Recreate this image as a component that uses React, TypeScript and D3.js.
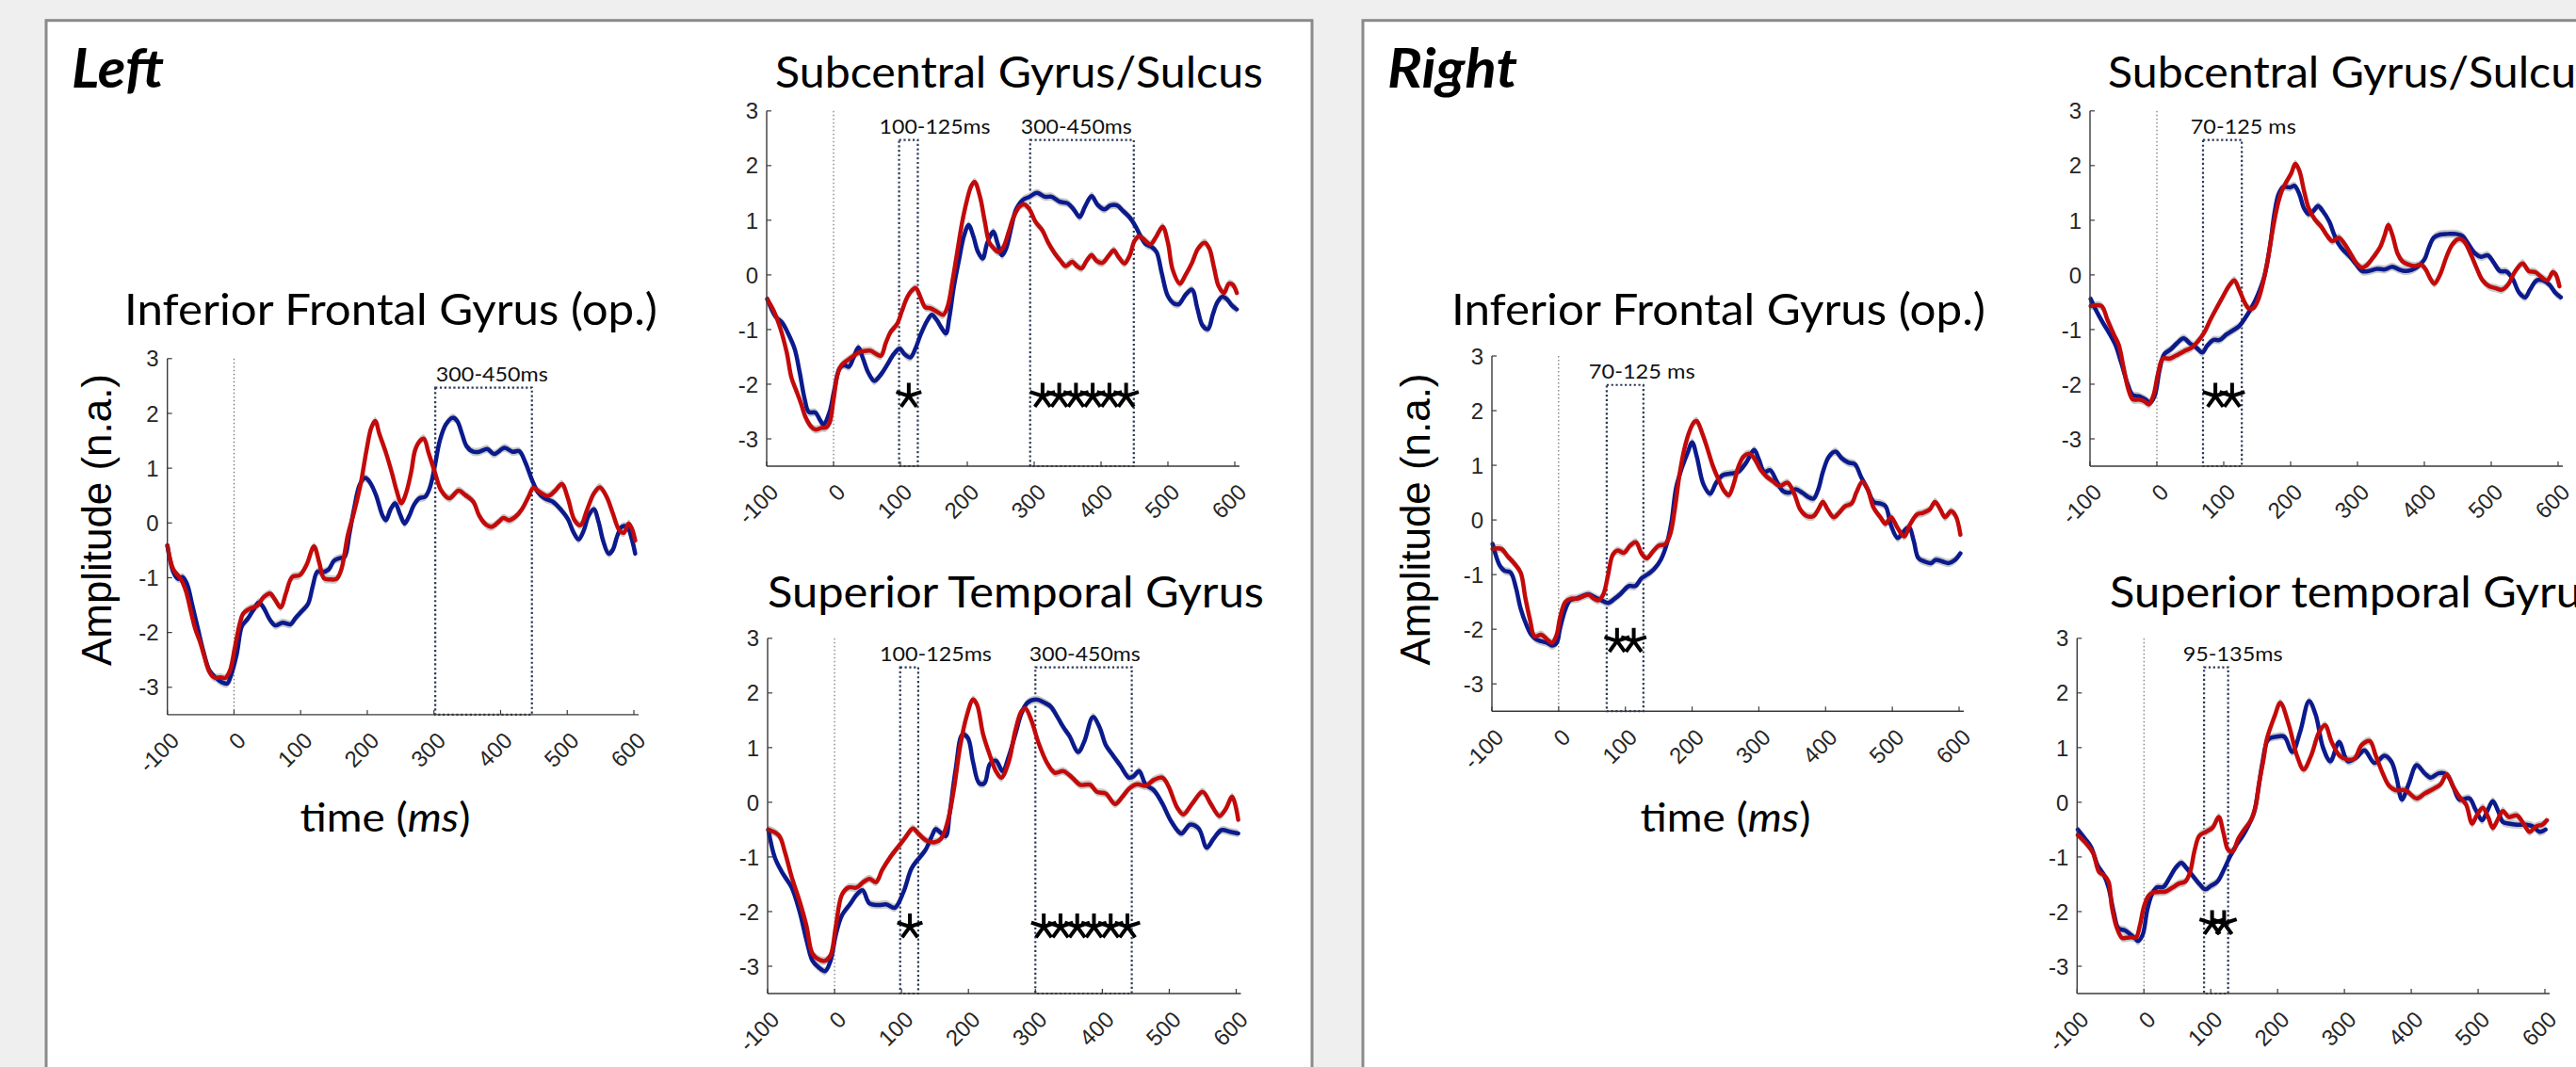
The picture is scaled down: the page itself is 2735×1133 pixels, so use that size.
import React, { useEffect } from 'react';
import * as d3 from 'd3';

type Pt = [number, number];

// ---------- axis ticks ----------
const timeTicks = [-100, 0, 100, 200, 300, 400, 500, 600];
const ampTicks = [-3, -2, -1, 0, 1, 2, 3];

// ---------- LEFT hemisphere ----------
const ifgLeftBlue: Pt[] = [[-100,-0.41],[-91,-0.9],[-84,-1.02],[-77,-0.99],[-70,-1.13],[-63,-1.48],[-54,-1.94],[-46,-2.34],[-37,-2.69],[-27,-2.83],[-18,-2.91],[-10,-2.93],[-5,-2.8],[4,-2.4],[12,-1.88],[20,-1.76],[30,-1.57],[37,-1.45],[44,-1.54],[54,-1.77],[62,-1.87],[73,-1.82],[85,-1.85],[92,-1.74],[101,-1.62],[111,-1.48],[118,-1.16],[125,-0.89],[132,-0.9],[142,-0.85],[150,-0.69],[159,-0.64],[166,-0.62],[173,-0.21],[180,0.25],[189,0.71],[197,0.82],[204,0.74],[213,0.51],[223,0.13],[228,0.05],[235,0.25],[242,0.36],[249,0.16],[256,-0.01],[263,0.13],[270,0.33],[278,0.45],[287,0.48],[294,0.65],[301,1.02],[309,1.51],[318,1.8],[328,1.92],[335,1.86],[342,1.63],[349,1.4],[359,1.3],[368,1.3],[380,1.35],[390,1.26],[406,1.37],[418,1.3],[428,1.31],[437,1.11],[447,0.79],[456,0.56],[466,0.45],[478,0.39],[490,0.25],[501,0.07],[509,-0.16],[517,-0.3],[525,-0.13],[532,0.13],[540,0.25],[547,0.02],[554,-0.33],[562,-0.56],[568,-0.5],[575,-0.24],[582,-0.07],[590,-0.07],[597,-0.3],[602,-0.56]];
const ifgLeftRed: Pt[] = [[-100,-0.41],[-91,-0.85],[-80,-1.02],[-72,-1.25],[-65,-1.6],[-58,-1.94],[-51,-2.17],[-44,-2.46],[-37,-2.72],[-30,-2.82],[-20,-2.82],[-13,-2.83],[-6,-2.69],[1,-2.29],[9,-1.82],[14,-1.65],[23,-1.57],[35,-1.51],[44,-1.36],[54,-1.29],[61,-1.39],[70,-1.54],[78,-1.28],[87,-0.99],[99,-0.95],[109,-0.76],[120,-0.43],[128,-0.73],[135,-1.01],[144,-1.03],[154,-1.02],[161,-0.85],[171,-0.21],[180,0.19],[190,0.71],[199,1.34],[206,1.74],[212,1.86],[218,1.63],[228,1.28],[237,0.91],[244,0.59],[251,0.36],[258,0.54],[266,0.94],[272,1.34],[280,1.51],[285,1.54],[292,1.28],[301,0.94],[311,0.59],[323,0.45],[337,0.59],[347,0.51],[359,0.39],[368,0.13],[378,-0.03],[387,-0.07],[397,0.02],[404,0.09],[413,0.05],[423,0.12],[432,0.25],[442,0.48],[449,0.64],[459,0.56],[471,0.49],[482,0.59],[492,0.71],[501,0.45],[511,0.05],[520,-0.04],[530,0.25],[540,0.54],[549,0.65],[559,0.48],[568,0.19],[578,-0.13],[585,-0.18],[592,-0.01],[597,-0.1],[602,-0.32]];

const scgLeftBlue: Pt[] = [[-99,-0.44],[-87,-0.76],[-77,-0.87],[-68,-1.07],[-58,-1.36],[-51,-1.76],[-43,-2.28],[-37,-2.51],[-27,-2.52],[-20,-2.66],[-15,-2.74],[-6,-2.51],[1,-2.11],[9,-1.71],[16,-1.65],[23,-1.68],[30,-1.51],[37,-1.33],[44,-1.53],[52,-1.79],[61,-1.94],[71,-1.82],[80,-1.65],[90,-1.45],[99,-1.35],[106,-1.45],[115,-1.51],[123,-1.33],[130,-1.1],[140,-0.84],[147,-0.73],[154,-0.82],[161,-0.96],[168,-1.07],[173,-0.79],[180,-0.21],[188,0.3],[195,0.71],[202,0.91],[209,0.71],[216,0.42],[223,0.3],[230,0.59],[239,0.79],[245,0.59],[252,0.36],[258,0.48],[266,0.88],[273,1.2],[283,1.37],[293,1.43],[304,1.5],[316,1.43],[326,1.43],[338,1.34],[350,1.31],[359,1.2],[368,1.06],[376,1.25],[386,1.44],[395,1.28],[405,1.2],[414,1.27],[424,1.27],[433,1.17],[443,1.05],[452,0.88],[459,0.71],[467,0.56],[476,0.51],[483,0.42],[491,0.02],[500,-0.39],[510,-0.53],[517,-0.53],[526,-0.37],[536,-0.27],[544,-0.61],[552,-0.93],[560,-0.99],[567,-0.73],[574,-0.5],[581,-0.4],[588,-0.44],[595,-0.55],[603,-0.63]];
const scgLeftRed: Pt[] = [[-99,-0.45],[-89,-0.67],[-80,-0.96],[-70,-1.42],[-63,-1.88],[-56,-2.11],[-49,-2.34],[-42,-2.6],[-34,-2.77],[-27,-2.83],[-18,-2.8],[-11,-2.79],[-6,-2.71],[0,-2.28],[6,-1.82],[12,-1.65],[21,-1.56],[30,-1.48],[40,-1.41],[49,-1.39],[56,-1.39],[64,-1.45],[71,-1.48],[78,-1.25],[85,-1.05],[95,-0.9],[102,-0.67],[109,-0.44],[116,-0.3],[123,-0.24],[130,-0.41],[137,-0.59],[145,-0.61],[154,-0.67],[164,-0.73],[171,-0.56],[178,-0.1],[185,0.42],[192,0.94],[199,1.34],[206,1.63],[211,1.7],[219,1.43],[226,0.99],[233,0.59],[240,0.48],[247,0.42],[254,0.51],[262,0.79],[269,1.05],[278,1.25],[285,1.29],[293,1.2],[302,0.97],[312,0.82],[321,0.59],[331,0.39],[340,0.25],[347,0.16],[357,0.24],[364,0.16],[371,0.12],[378,0.25],[386,0.36],[393,0.26],[402,0.22],[412,0.36],[419,0.45],[426,0.33],[435,0.21],[443,0.36],[450,0.62],[457,0.71],[464,0.65],[474,0.56],[483,0.71],[492,0.88],[500,0.59],[507,0.1],[518,-0.16],[526,-0.01],[536,0.22],[545,0.48],[555,0.59],[562,0.48],[569,0.13],[576,-0.21],[584,-0.33],[591,-0.16],[597,-0.18],[603,-0.33]];

const stgLeftBlue: Pt[] = [[-99,-0.5],[-89,-1.02],[-77,-1.31],[-64,-1.56],[-52,-2.01],[-42,-2.52],[-33,-2.9],[-23,-3.03],[-14,-3.09],[-6,-2.9],[2,-2.42],[11,-2.07],[24,-1.85],[33,-1.69],[42,-1.61],[52,-1.85],[65,-1.88],[78,-1.87],[90,-1.93],[103,-1.64],[115,-1.21],[127,-1.01],[136,-0.87],[146,-0.6],[151,-0.49],[158,-0.55],[166,-0.62],[172,-0.2],[181,0.61],[191,1.24],[199,1.18],[207,0.73],[216,0.35],[224,0.35],[232,0.7],[241,0.76],[251,0.57],[260,0.83],[270,1.24],[279,1.62],[288,1.82],[301,1.88],[314,1.82],[323,1.75],[333,1.56],[342,1.37],[351,1.21],[364,0.92],[373,1.11],[386,1.56],[396,1.37],[405,1.05],[414,0.89],[427,0.67],[440,0.45],[447,0.48],[455,0.57],[465,0.32],[477,0.22],[490,-0.03],[503,-0.35],[518,-0.57],[531,-0.41],[544,-0.48],[556,-0.83],[566,-0.67],[578,-0.51],[591,-0.54],[603,-0.57]];
const stgLeftRed: Pt[] = [[-99,-0.5],[-83,-0.61],[-74,-0.92],[-64,-1.37],[-52,-1.82],[-42,-2.26],[-33,-2.77],[-23,-2.88],[-14,-2.9],[-6,-2.8],[2,-2.26],[11,-1.69],[21,-1.56],[33,-1.56],[43,-1.46],[52,-1.4],[62,-1.46],[71,-1.24],[84,-0.99],[96,-0.8],[106,-0.64],[117,-0.48],[125,-0.57],[137,-0.7],[150,-0.73],[159,-0.67],[169,-0.35],[178,0.22],[188,1.05],[197,1.56],[207,1.88],[213,1.78],[222,1.24],[232,0.86],[241,0.57],[249,0.45],[260,0.73],[270,1.31],[279,1.66],[285,1.72],[294,1.5],[304,1.11],[317,0.73],[329,0.54],[342,0.57],[355,0.45],[367,0.32],[382,0.32],[392,0.19],[405,0.16],[419,-0.03],[430,0.1],[440,0.25],[452,0.33],[465,0.3],[477,0.41],[490,0.45],[499,0.29],[512,-0.1],[521,-0.22],[534,-0.03],[550,0.19],[562,-0.03],[575,-0.25],[584,-0.13],[594,0.1],[603,-0.32]];

// ---------- RIGHT hemisphere ----------
const ifgRightBlue: Pt[] = [[-99,-0.44],[-88,-0.84],[-81,-0.93],[-72,-0.96],[-64,-1.24],[-57,-1.62],[-48,-1.93],[-41,-2.1],[-33,-2.19],[-26,-2.22],[-17,-2.25],[-10,-2.3],[-3,-2.25],[2,-1.99],[10,-1.64],[17,-1.47],[26,-1.44],[36,-1.39],[45,-1.36],[55,-1.42],[64,-1.47],[74,-1.52],[84,-1.44],[93,-1.35],[105,-1.21],[115,-1.21],[124,-1.07],[134,-0.99],[143,-0.9],[153,-0.73],[162,-0.44],[169,-0.04],[176,0.59],[184,0.93],[193,1.22],[200,1.42],[207,1.16],[217,0.65],[227,0.48],[236,0.68],[246,0.82],[258,0.85],[269,0.88],[281,1.05],[293,1.28],[300,1.11],[308,0.88],[317,0.91],[327,0.7],[336,0.53],[346,0.5],[355,0.56],[365,0.5],[374,0.42],[382,0.39],[389,0.56],[396,0.88],[405,1.16],[415,1.25],[424,1.13],[434,1.05],[444,1.02],[453,0.79],[463,0.56],[472,0.33],[482,0.3],[490,0.25],[498,-0.1],[508,-0.33],[517,-0.21],[525,-0.13],[532,-0.38],[539,-0.7],[548,-0.76],[558,-0.79],[565,-0.73],[575,-0.76],[584,-0.79],[594,-0.73],[602,-0.61]];
const ifgRightRed: Pt[] = [[-99,-0.53],[-86,-0.53],[-76,-0.67],[-67,-0.79],[-57,-0.96],[-50,-1.42],[-43,-1.82],[-36,-2.13],[-26,-2.1],[-17,-2.19],[-10,-2.25],[-3,-2.1],[2,-1.79],[10,-1.5],[19,-1.44],[29,-1.44],[38,-1.39],[45,-1.37],[53,-1.44],[60,-1.47],[67,-1.36],[74,-1.01],[81,-0.64],[88,-0.56],[98,-0.6],[107,-0.47],[116,-0.41],[124,-0.61],[132,-0.7],[141,-0.58],[150,-0.47],[160,-0.44],[167,-0.27],[174,0.19],[181,0.82],[188,1.28],[196,1.62],[203,1.79],[207,1.81],[215,1.59],[222,1.34],[231,0.99],[241,0.7],[248,0.53],[255,0.45],[262,0.65],[269,0.96],[277,1.16],[286,1.21],[293,1.13],[303,0.91],[312,0.79],[322,0.7],[331,0.62],[343,0.68],[353,0.48],[362,0.19],[372,0.07],[382,0.07],[389,0.19],[396,0.33],[403,0.19],[412,0.05],[420,0.13],[429,0.25],[439,0.3],[446,0.5],[455,0.7],[463,0.56],[472,0.22],[482,0.05],[490,-0.07],[498,0.05],[508,-0.15],[518,-0.3],[527,-0.07],[537,0.1],[546,0.13],[556,0.19],[564,0.33],[572,0.19],[579,0.05],[588,0.16],[595,0.07],[602,-0.27]];

const scgRightBlue: Pt[] = [[-99,-0.44],[-90,-0.67],[-81,-0.87],[-72,-1.05],[-62,-1.28],[-53,-1.62],[-43,-2.02],[-36,-2.2],[-27,-2.22],[-17,-2.28],[-10,-2.34],[-3,-2.2],[4,-1.74],[11,-1.45],[21,-1.36],[30,-1.25],[40,-1.16],[49,-1.25],[59,-1.33],[68,-1.42],[75,-1.3],[85,-1.19],[94,-1.19],[104,-1.09],[113,-1.02],[123,-0.94],[132,-0.79],[142,-0.59],[151,-0.36],[161,-0.01],[169,0.51],[176,1.14],[182,1.48],[189,1.61],[199,1.6],[206,1.63],[213,1.48],[220,1.22],[227,1.11],[234,1.17],[241,1.26],[248,1.17],[258,0.97],[265,0.74],[272,0.56],[279,0.45],[289,0.33],[298,0.19],[307,0.07],[317,0.07],[329,0.11],[341,0.1],[352,0.15],[362,0.1],[371,0.07],[381,0.09],[390,0.15],[400,0.28],[407,0.51],[414,0.68],[424,0.74],[435,0.75],[447,0.75],[457,0.71],[466,0.56],[476,0.39],[485,0.33],[495,0.36],[504,0.22],[513,0.07],[523,0.06],[532,-0.07],[542,-0.33],[551,-0.41],[558,-0.27],[568,-0.1],[577,-0.1],[587,-0.18],[596,-0.33],[604,-0.41]];
const scgRightRed: Pt[] = [[-99,-0.57],[-83,-0.57],[-74,-0.82],[-64,-1.1],[-57,-1.28],[-50,-1.68],[-43,-2.08],[-36,-2.28],[-27,-2.28],[-19,-2.31],[-12,-2.37],[-5,-2.2],[2,-1.79],[9,-1.53],[19,-1.53],[28,-1.48],[40,-1.4],[52,-1.33],[61,-1.22],[71,-1.05],[80,-0.82],[90,-0.59],[99,-0.39],[109,-0.18],[116,-0.1],[123,-0.27],[130,-0.47],[137,-0.61],[144,-0.61],[151,-0.47],[158,-0.18],[165,0.22],[172,0.74],[180,1.25],[187,1.54],[194,1.71],[201,1.86],[207,2.03],[213,1.91],[220,1.54],[227,1.22],[236,1.02],[246,0.88],[255,0.71],[262,0.62],[272,0.68],[281,0.56],[291,0.36],[300,0.19],[307,0.13],[315,0.19],[324,0.33],[334,0.51],[341,0.74],[346,0.91],[352,0.74],[360,0.39],[367,0.25],[376,0.19],[386,0.16],[395,0.19],[402,0.1],[409,-0.07],[415,-0.16],[424,0.02],[433,0.33],[442,0.56],[452,0.66],[459,0.62],[469,0.39],[478,0.13],[487,-0.1],[497,-0.21],[506,-0.24],[516,-0.27],[525,-0.18],[535,0.05],[547,0.21],[556,0.07],[566,0.05],[575,-0.04],[584,-0.1],[592,0.05],[596,0.02],[602,-0.21]];

const stgRightBlue: Pt[] = [[-99,-0.5],[-88,-0.67],[-79,-0.82],[-69,-1.16],[-60,-1.33],[-53,-1.56],[-45,-2.02],[-38,-2.31],[-29,-2.34],[-22,-2.4],[-14,-2.48],[-9,-2.54],[-2,-2.43],[5,-1.97],[12,-1.68],[19,-1.56],[29,-1.55],[38,-1.39],[48,-1.19],[56,-1.11],[64,-1.21],[74,-1.36],[84,-1.51],[92,-1.59],[100,-1.53],[110,-1.45],[119,-1.25],[129,-0.99],[138,-0.79],[148,-0.61],[157,-0.41],[165,-0.18],[171,0.22],[177,0.7],[186,1.15],[198,1.2],[210,1.2],[222,0.92],[234,1.3],[247,1.85],[257,1.6],[268,1.0],[279,0.75],[292,1.1],[305,0.75],[318,0.82],[330,0.95],[345,0.72],[360,0.85],[370,0.75],[378,0.45],[386,0.05],[396,0.33],[408,0.68],[420,0.53],[429,0.45],[441,0.53],[453,0.51],[463,0.28],[472,0.05],[487,0.07],[496,-0.13],[506,-0.33],[513,-0.18],[522,0.02],[530,-0.16],[537,-0.36],[546,-0.39],[558,-0.41],[572,-0.41],[582,-0.44],[592,-0.54],[601,-0.5]];
const stgRightRed: Pt[] = [[-99,-0.6],[-86,-0.76],[-76,-0.93],[-67,-1.28],[-60,-1.33],[-53,-1.45],[-48,-1.91],[-41,-2.28],[-33,-2.48],[-26,-2.48],[-19,-2.47],[-12,-2.48],[-6,-2.25],[0,-1.91],[7,-1.71],[14,-1.65],[24,-1.64],[33,-1.63],[43,-1.56],[52,-1.49],[62,-1.45],[69,-1.28],[76,-0.87],[83,-0.61],[93,-0.54],[103,-0.46],[112,-0.27],[119,-0.56],[126,-0.87],[133,-0.9],[141,-0.67],[150,-0.5],[160,-0.33],[167,-0.07],[172,0.33],[179,0.79],[184,1.16],[196,1.59],[204,1.82],[217,1.41],[229,0.85],[239,0.6],[250,0.85],[262,1.28],[271,1.41],[281,1.1],[293,0.85],[305,0.78],[315,0.8],[326,1.05],[338,1.12],[347,0.85],[358,0.51],[367,0.3],[377,0.22],[391,0.22],[408,0.07],[420,0.16],[434,0.25],[444,0.33],[453,0.51],[463,0.28],[472,0.1],[482,-0.04],[491,-0.39],[498,-0.24],[507,-0.1],[515,-0.27],[522,-0.47],[530,-0.3],[537,-0.16],[546,-0.27],[558,-0.24],[568,-0.39],[577,-0.54],[587,-0.44],[596,-0.41],[603,-0.33]];

// ---------- analysis windows (ms), label start (ms) ----------
type Win = { x0: number; x1: number; label: string; labelAt: number; labelW: number };
const ifgLeftWindows: Win[] = [{ x0: 302, x1: 447, label: '300-450ms', labelAt: 303, labelW: 119 }];
const scgLeftWindows: Win[] = [
  { x0: 98, x1: 126, label: '100-125ms', labelAt: 68.5, labelW: 118 },
  { x0: 294, x1: 449, label: '300-450ms', labelAt: 280, labelW: 118 },
];
const stgLeftWindows: Win[] = [
  { x0: 98, x1: 125, label: '100-125ms', labelAt: 67.4, labelW: 119 },
  { x0: 300, x1: 444, label: '300-450ms', labelAt: 291, labelW: 118 },
];
const ifgRightWindows: Win[] = [{ x0: 72, x1: 127, label: '70-125 ms', labelAt: 45, labelW: 113 }];
const scgRightWindows: Win[] = [{ x0: 69, x1: 127, label: '70-125 ms', labelAt: 50.4, labelW: 112 }];
const stgRightWindows: Win[] = [{ x0: 90, x1: 126, label: '95-135ms', labelAt: 58.3, labelW: 106 }];

// ---------- significance markers (ms) ----------
const ifgLeftStars: number[] = [];
const scgLeftStars = [112.5, 312.5, 337.5, 362.5, 387.5, 412.5, 437.5];
const stgLeftStars = [112.5, 312.5, 337.5, 362.5, 387.5, 412.5, 437.5];
const ifgRightStars = [87.5, 112.5];
const scgRightStars = [87.5, 112.5];
const stgRightStars = [102, 120];

const semHalf = 0.075;

// ---------- layout (pixels) ----------
const geo = {
  ifgL: { xl: 177.7, xr: 673, y3: 380.8, ym3: 729.8 },
  scgL: { xl: 814, xr: 1311, y3: 117.8, ym3: 466 },
  stgL: { xl: 815, xr: 1312.5, y3: 677.8, ym3: 1026 },
  ifgR: { xl: 1584, xr: 2080, y3: 378, ym3: 726.2 },
  scgR: { xl: 2219, xr: 2716, y3: 117.8, ym3: 466 },
  stgR: { xl: 2205.3, xr: 2702, y3: 677.8, ym3: 1026 },
};

const BLUE = '#0b1a8c';
const RED = '#c30a0a';
const BAND = '#c9c9c9';
const WIN = '#2c3958';
const AX = '#3a3a3a';
const TXT = '#262626';
const TITLE_FONT = "Lato, 'Open Sans', sans-serif";
const TICK_FONT = "'Liberation Sans', Arial, sans-serif";

// five-armed asterisk marker path (like a text '*')
function asteriskPath(cx: number, cy: number, r: number): string {
  const angles = [-90, -18, -162, 54, 126];
  return angles
    .map(a => {
      const rad = (a * Math.PI) / 180;
      return `M${cx},${cy}L${cx + r * Math.cos(rad)},${cy + r * Math.sin(rad)}`;
    })
    .join('');
}

type ChartProps = {
  g: { xl: number; xr: number; y3: number; ym3: number };
  title: string; titleX: number; titleY: number; titleW: number;
  blue: Pt[]; red: Pt[]; windows: Win[]; stars: number[]; starLevel: number;
  yLabel?: { x: number; y: number }; xLabel?: { x: number; y: number };
};

function Chart(p: ChartProps) {
  const x = d3.scaleLinear().domain([-100, 600]).range([p.g.xl, p.g.xr]);
  const y = d3.scaleLinear().domain([-3, 3]).range([p.g.ym3, p.g.y3]);
  const axisY = y(-3.5);
  const xEnd = x(607);
  const curve = d3.curveCatmullRom.alpha(0.5);
  const line = d3.line<Pt>().x(d => x(d[0])).y(d => y(d[1])).curve(curve);
  const area = d3.area<Pt>().x(d => x(d[0])).y0(d => y(d[1] - semHalf)).y1(d => y(d[1] + semHalf)).curve(curve);
  const winTop = y(2.47);
  return (
    <g>
      <text x={p.titleX} y={p.titleY} fontFamily={TITLE_FONT} fontSize={47} fill="#000"
        textLength={p.titleW} lengthAdjust="spacingAndGlyphs">{p.title}</text>
      <line x1={x(0)} x2={x(0)} y1={y(3)} y2={axisY} stroke="#555" strokeWidth={1} strokeDasharray="1.5 2.5" />
      {p.windows.map((w, i) => (
        <g key={i}>
          <rect x={x(w.x0)} y={winTop} width={x(w.x1) - x(w.x0)} height={axisY - winTop}
            fill="none" stroke={WIN} strokeWidth={2.2} strokeDasharray="2.2 2.6" />
          <text x={x(w.labelAt)} y={winTop - 6.5} fontFamily={TITLE_FONT} fontSize={22} fill="#111"
            textLength={w.labelW} lengthAdjust="spacingAndGlyphs">{w.label}</text>
        </g>
      ))}
      <path d={area(p.blue) || ''} fill={BAND} />
      <path d={area(p.red) || ''} fill={BAND} />
      <path d={line(p.blue) || ''} fill="none" stroke={BLUE} strokeWidth={4.5} strokeLinejoin="round" strokeLinecap="round" />
      <path d={line(p.red) || ''} fill="none" stroke={RED} strokeWidth={4.5} strokeLinejoin="round" strokeLinecap="round" />
      <line x1={p.g.xl} x2={p.g.xl} y1={y(3)} y2={axisY} stroke={AX} strokeWidth={1.4} />
      <line x1={p.g.xl} x2={xEnd} y1={axisY} y2={axisY} stroke={AX} strokeWidth={1.4} />
      {ampTicks.map(t => (
        <g key={'y' + t}>
          <line x1={p.g.xl} x2={p.g.xl + 5} y1={y(t)} y2={y(t)} stroke={AX} strokeWidth={1.2} />
          <text x={p.g.xl - 9} y={y(t)} dy="0.36em" textAnchor="end" fontFamily={TICK_FONT} fontSize={24} fill={TXT}>{t}</text>
        </g>
      ))}
      {timeTicks.map(t => (
        <g key={'x' + t}>
          <line x1={x(t)} x2={x(t)} y1={axisY} y2={axisY - 5} stroke={AX} strokeWidth={1.2} />
          <text transform={`translate(${x(t) + 14},${axisY + 29}) rotate(-45)`} textAnchor="end"
            fontFamily={TICK_FONT} fontSize={24} fill={TXT}>{t}</text>
        </g>
      ))}
      {p.stars.map((s, i) => (
        <path key={'s' + i} d={asteriskPath(x(s), y(p.starLevel) + 1.5, 14)} stroke="#000" strokeWidth={4} fill="none" />
      ))}
      {p.yLabel && (
        <text transform={`translate(${p.yLabel.x},${p.yLabel.y}) rotate(-90)`} textAnchor="middle"
          fontFamily={TICK_FONT} fontSize={44} fill="#000" textLength={310} lengthAdjust="spacingAndGlyphs">Amplitude (n.a.)</text>
      )}
      {p.xLabel && (
        <text x={p.xLabel.x} y={p.xLabel.y} textAnchor="middle" fontFamily={TITLE_FONT} fontSize={43} fill="#000"
          textLength={181} lengthAdjust="spacingAndGlyphs">time (<tspan fontStyle="italic">ms</tspan>)</text>
      )}
    </g>
  );
}

export default function App() {
  useEffect(() => {
    document.body.style.margin = '0';
    document.body.style.overflow = 'hidden';
  }, []);
  return (
    <svg width={2735} height={1133} style={{ position: 'absolute', left: 0, top: 0, display: 'block' }}>
      <rect x={0} y={0} width={2735} height={1133} fill="#efefef" />
      <rect x={49} y={21.7} width={1344} height={1200} fill="#fff" stroke="#8a8a8a" strokeWidth={3} />
      <rect x={1447} y={21.7} width={1400} height={1200} fill="#fff" stroke="#8a8a8a" strokeWidth={3} />
      <text x={76} y={92.5} fontFamily={TITLE_FONT} fontWeight="bold" fontStyle="italic" fontSize={57}
        textLength={98} lengthAdjust="spacingAndGlyphs">Left</text>
      <text x={1473} y={92.5} fontFamily={TITLE_FONT} fontWeight="bold" fontStyle="italic" fontSize={57}
        textLength={138} lengthAdjust="spacingAndGlyphs">Right</text>

      <Chart g={geo.ifgL} title="Inferior Frontal Gyrus (op.)" titleX={132} titleY={345} titleW={566}
        blue={ifgLeftBlue} red={ifgLeftRed} windows={ifgLeftWindows} stars={ifgLeftStars} starLevel={-2.2}
        yLabel={{ x: 118, y: 552 }} xLabel={{ x: 409, y: 883 }} />
      <Chart g={geo.scgL} title="Subcentral Gyrus/Sulcus" titleX={823} titleY={92.5} titleW={518}
        blue={scgLeftBlue} red={scgLeftRed} windows={scgLeftWindows} stars={scgLeftStars} starLevel={-2.19} />
      <Chart g={geo.stgL} title="Superior Temporal Gyrus" titleX={815} titleY={645} titleW={527}
        blue={stgLeftBlue} red={stgLeftRed} windows={stgLeftWindows} stars={stgLeftStars} starLevel={-2.25} />

      <Chart g={geo.ifgR} title="Inferior Frontal Gyrus (op.)" titleX={1541} titleY={345} titleW={567}
        blue={ifgRightBlue} red={ifgRightRed} windows={ifgRightWindows} stars={ifgRightStars} starLevel={-2.19}
        yLabel={{ x: 1517.5, y: 551.5 }} xLabel={{ x: 1832, y: 883 }} />
      <Chart g={geo.scgR} title="Subcentral Gyrus/Sulcus" titleX={2238} titleY={92.5} titleW={518}
        blue={scgRightBlue} red={scgRightRed} windows={scgRightWindows} stars={scgRightStars} starLevel={-2.19} />
      <Chart g={geo.stgR} title="Superior temporal Gyrus" titleX={2240} titleY={645} titleW={522}
        blue={stgRightBlue} red={stgRightRed} windows={stgRightWindows} stars={stgRightStars} starLevel={-2.19} />
    </svg>
  );
}
